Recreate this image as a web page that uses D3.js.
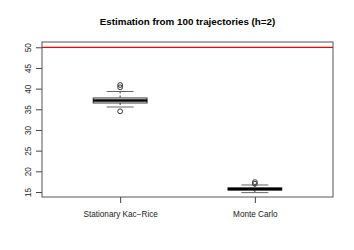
<!DOCTYPE html>
<html>
<head>
<meta charset="utf-8">
<script src="https://cdn.jsdelivr.net/npm/d3@7"></script>
<style>
  body { margin: 0; background: #fff; }
  svg { display: block; font-family: "Liberation Sans", Arial, sans-serif; }
</style>
</head>
<body>
<svg id="chart" width="354" height="250"></svg>
<script>
// boxplot summaries
const groups = ['Stationary Kac\u2212Rice', 'Monte Carlo'];
const whiskerLo = [35.56, 14.85];
const q1 = [36.53, 15.45];
const median = [37.13, 15.7];
const q3 = [37.74, 16.0];
const whiskerHi = [39.31, 16.7];
const outliers = [[40.88, 40.32, 34.52], [17.4, 17.0]];
const trueValue = 50;
const yTicks = [15, 20, 25, 30, 35, 40, 45, 50];

const plot = {left: 42, right: 333, top: 42, bottom: 197};
const svg = d3.select('#chart');

const x = d3.scaleLinear().domain([0.42, 2.58]).range([plot.left, plot.right]);
const y = d3.scaleLinear().domain([13.79, 51.28]).range([plot.bottom, plot.top]);
const boxW = x(1.4) - x(1);

svg.append('text')
    .attr('x', (plot.left + plot.right) / 2)
    .attr('y', 25)
    .attr('text-anchor', 'middle')
    .attr('font-weight', 'bold')
    .attr('font-size', 9.8)
    .text('Estimation from 100 trajectories (h=2)');

// y axis, labels parallel to the axis like R
const ya = svg.append('g')
    .attr('transform', `translate(${plot.left},0)`)
    .call(d3.axisLeft(y).tickValues(yTicks).tickSize(6));
ya.select('.domain').remove();
ya.selectAll('line').attr('stroke', '#444');
ya.selectAll('text')
    .attr('font-size', 8.2)
    .attr('fill', '#222')
    .attr('x', 0).attr('y', 0)
    .attr('dy', '0.35em')
    .attr('text-anchor', 'middle')
    .attr('transform', 'translate(-14,0) rotate(-90)');

// x axis
const xa = svg.append('g')
    .attr('transform', `translate(0,${plot.bottom})`)
    .call(d3.axisBottom(x).tickValues([1, 2]).tickSize(6).tickPadding(8)
        .tickFormat((d, i) => groups[i]));
xa.select('.domain').remove();
xa.selectAll('line').attr('stroke', '#444');
xa.selectAll('text').attr('font-size', 8.2).attr('fill', '#222');

// boxes
const g = svg.append('g').selectAll('g')
    .data(groups).enter().append('g');

g.append('line')
    .attr('x1', (d, i) => x(i + 1)).attr('x2', (d, i) => x(i + 1))
    .attr('y1', (d, i) => y(whiskerHi[i])).attr('y2', (d, i) => y(q3[i]))
    .attr('stroke', '#333').attr('stroke-dasharray', '2,2');
g.append('line')
    .attr('x1', (d, i) => x(i + 1)).attr('x2', (d, i) => x(i + 1))
    .attr('y1', (d, i) => y(q1[i])).attr('y2', (d, i) => y(whiskerLo[i]))
    .attr('stroke', '#333').attr('stroke-dasharray', '2,2');
[whiskerHi, whiskerLo].forEach(arr => {
    g.append('line')
        .attr('x1', (d, i) => x(i + 1) - boxW / 4).attr('x2', (d, i) => x(i + 1) + boxW / 4)
        .attr('y1', (d, i) => y(arr[i])).attr('y2', (d, i) => y(arr[i]))
        .attr('stroke', '#666');
});
g.append('rect')
    .attr('x', (d, i) => x(i + 1) - boxW / 2)
    .attr('width', boxW)
    .attr('y', (d, i) => y(q3[i]))
    .attr('height', (d, i) => y(q1[i]) - y(q3[i]))
    .attr('fill', 'none').attr('stroke', '#333');
g.append('line')
    .attr('x1', (d, i) => x(i + 1) - boxW / 2).attr('x2', (d, i) => x(i + 1) + boxW / 2)
    .attr('y1', (d, i) => y(median[i])).attr('y2', (d, i) => y(median[i]))
    .attr('stroke', '#000').attr('stroke-width', 2.5);
g.each(function(d, i) {
    d3.select(this).selectAll('circle')
        .data(outliers[i]).enter().append('circle')
        .attr('cx', x(i + 1)).attr('cy', v => y(v)).attr('r', 2.4)
        .attr('fill', 'none').attr('stroke', '#333');
});

// true value
svg.append('line')
    .attr('x1', plot.left).attr('x2', plot.right)
    .attr('y1', y(trueValue)).attr('y2', y(trueValue))
    .attr('stroke', '#f00').attr('stroke-width', 1.2);

// frame
svg.append('rect')
    .attr('x', plot.left).attr('y', plot.top)
    .attr('width', plot.right - plot.left).attr('height', plot.bottom - plot.top)
    .attr('fill', 'none').attr('stroke', '#555');
</script>
</body>
</html>
